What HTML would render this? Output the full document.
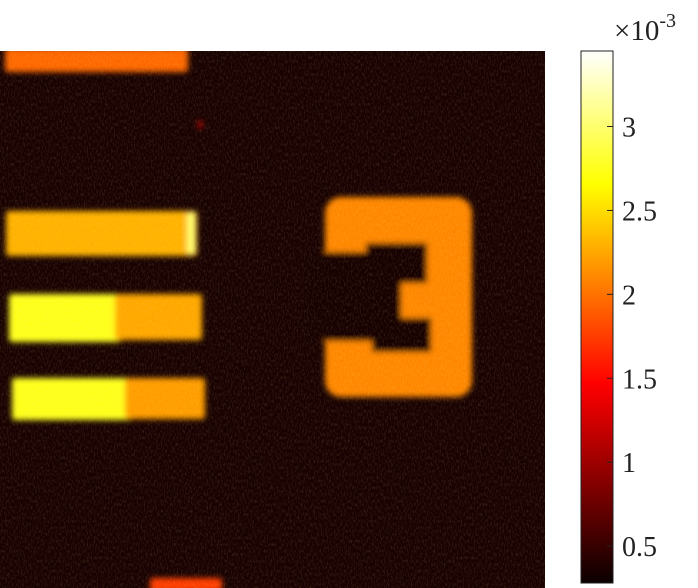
<!DOCTYPE html>
<html><head><meta charset="utf-8"><style>
html,body{margin:0;padding:0;background:#fff;}
svg{display:block;}
</style></head><body>
<svg id="fig" width="698" height="588" viewBox="0 0 698 588" xmlns="http://www.w3.org/2000/svg" font-family="'Liberation Serif', serif">
<defs>
<filter id="soft" x="-10%" y="-10%" width="120%" height="120%"><feGaussianBlur stdDeviation="3"/></filter>
<filter id="grain" x="0" y="0" width="100%" height="100%">
<feTurbulence type="fractalNoise" baseFrequency="0.7 0.3" numOctaves="2" seed="3"/>
<feColorMatrix type="matrix" values="0 0 0 0 1  0 0 0 0 0.85  0 0 0 0 0.3  0 0 0 0.3 -0.13"/>
</filter>
<linearGradient id="hotgrad" x1="0" y1="1" x2="0" y2="0">
<stop offset="0" stop-color="#0a0000"/>
<stop offset="0.375" stop-color="#ff0000"/>
<stop offset="0.75" stop-color="#ffff00"/>
<stop offset="1" stop-color="#ffffff"/>
</linearGradient>
<clipPath id="imgclip"><rect x="0" y="51" width="545" height="537"/></clipPath>
</defs>
<g id="image" clip-path="url(#imgclip)">
<rect x="0" y="51" width="545" height="537" fill="#180101"/>
<g id="marks" filter="url(#soft)"></g>
<rect x="0" y="51" width="545" height="537" filter="url(#grain)"/>
</g>
<g id="colorbar">
<rect x="581" y="51" width="32" height="532" fill="url(#hotgrad)" stroke="#222" stroke-width="1"/>
</g>
<text x="614" y="40" font-size="29" fill="#222" font-family="'Liberation Serif', serif">×10<tspan dy="-13" font-size="20">-3</tspan></text>
</svg>
<script>
// colour limits and colorbar ticks
const climMin = 0.28;
const climMax = 3.45;
const tickValues = [0.5, 1, 1.5, 2, 2.5, 3];
const tickLabels = ["0.5", "1", "1.5", "2", "2.5", "3"];
// region intensities (×10^-3)
const regionNames = ["top-bar", "bar-1", "bar-1-edge", "bar-2-left", "bar-2-right", "bar-3-left", "bar-3-right", "bottom-bar", "speck", "digit-three"];
const regionValues = [1.95, 2.3, 3.0, 2.75, 2.25, 2.75, 2.2, 1.75, 1.2, 2.1];
const NS = "http://www.w3.org/2000/svg";
function hot(v){
  let f = (v - climMin) / (climMax - climMin);
  f = Math.max(0, Math.min(1, f));
  const r = Math.min(1, f / 0.375), g = Math.max(0, Math.min(1, (f - 0.375) / 0.375)), b = Math.max(0, (f - 0.75) / 0.25);
  return `rgb(${Math.round(r*255)},${Math.round(g*255)},${Math.round(b*255)})`;
}
function cbY(v){ return 583 - (v - climMin) / (climMax - climMin) * 532; }
const marks = document.getElementById('marks');
const geom = {
  "top-bar": [5,48,183,24],
  "bar-1": [6,211,191,45],
  "bar-1-edge": [187,212,8,42],
  "bar-2-left": [9,294,112,48],
  "bar-2-right": [115,294,87,46],
  "bar-3-left": [12,378,120,42],
  "bar-3-right": [125,378,80,41],
  "bottom-bar": [150,578,72,14],
  "speck": [198,120,4,9]
};
regionNames.forEach((n, i) => {
  if (n === "digit-three") {
    const g = document.createElementNS(NS, 'g');
    
    
    const outer = document.createElementNS(NS, 'rect');
    outer.setAttribute('x', 325); outer.setAttribute('y', 197);
    outer.setAttribute('width', 147); outer.setAttribute('height', 200);
    outer.setAttribute('rx', 16); outer.setAttribute('fill', hot(regionValues[i]));
    g.appendChild(outer);
    const holes = [[315,252,86,89],[366,243,61,40],[372,318,59,34]];
    holes.forEach(h => {
      const d = document.createElementNS(NS, 'rect');
      d.setAttribute('x', h[0]); d.setAttribute('y', h[1]);
      d.setAttribute('width', h[2]); d.setAttribute('height', h[3]);
      d.setAttribute('fill', '#180101');
      g.appendChild(d);
    });
    marks.appendChild(g);
    return;
  }
  const [x, y, w, h] = geom[n];
  const r = document.createElementNS(NS, 'rect');
  
  
  r.setAttribute('x', x); r.setAttribute('y', y);
  r.setAttribute('width', w); r.setAttribute('height', h);
  r.setAttribute('rx', 3);
  r.setAttribute('fill', hot(regionValues[i]));
  marks.appendChild(r);
});
const cb = document.getElementById('colorbar');
tickValues.forEach((v, i) => {
  const y = cbY(v);
  const t = document.createElementNS(NS, 'line');
  
  
  t.setAttribute('x1', 607); t.setAttribute('x2', 613);
  t.setAttribute('y1', y); t.setAttribute('y2', y);
  t.setAttribute('stroke', '#222');
  cb.appendChild(t);
  const l = document.createElementNS(NS, 'text');
  
  
  l.setAttribute('x', 622); l.setAttribute('y', y + 10);
  l.setAttribute('font-size', '28');
  l.setAttribute('fill', '#222');
  l.setAttribute('font-family', "'Liberation Serif', serif");
  l.textContent = tickLabels[i];
  cb.appendChild(l);
});
</script>
</body></html>
